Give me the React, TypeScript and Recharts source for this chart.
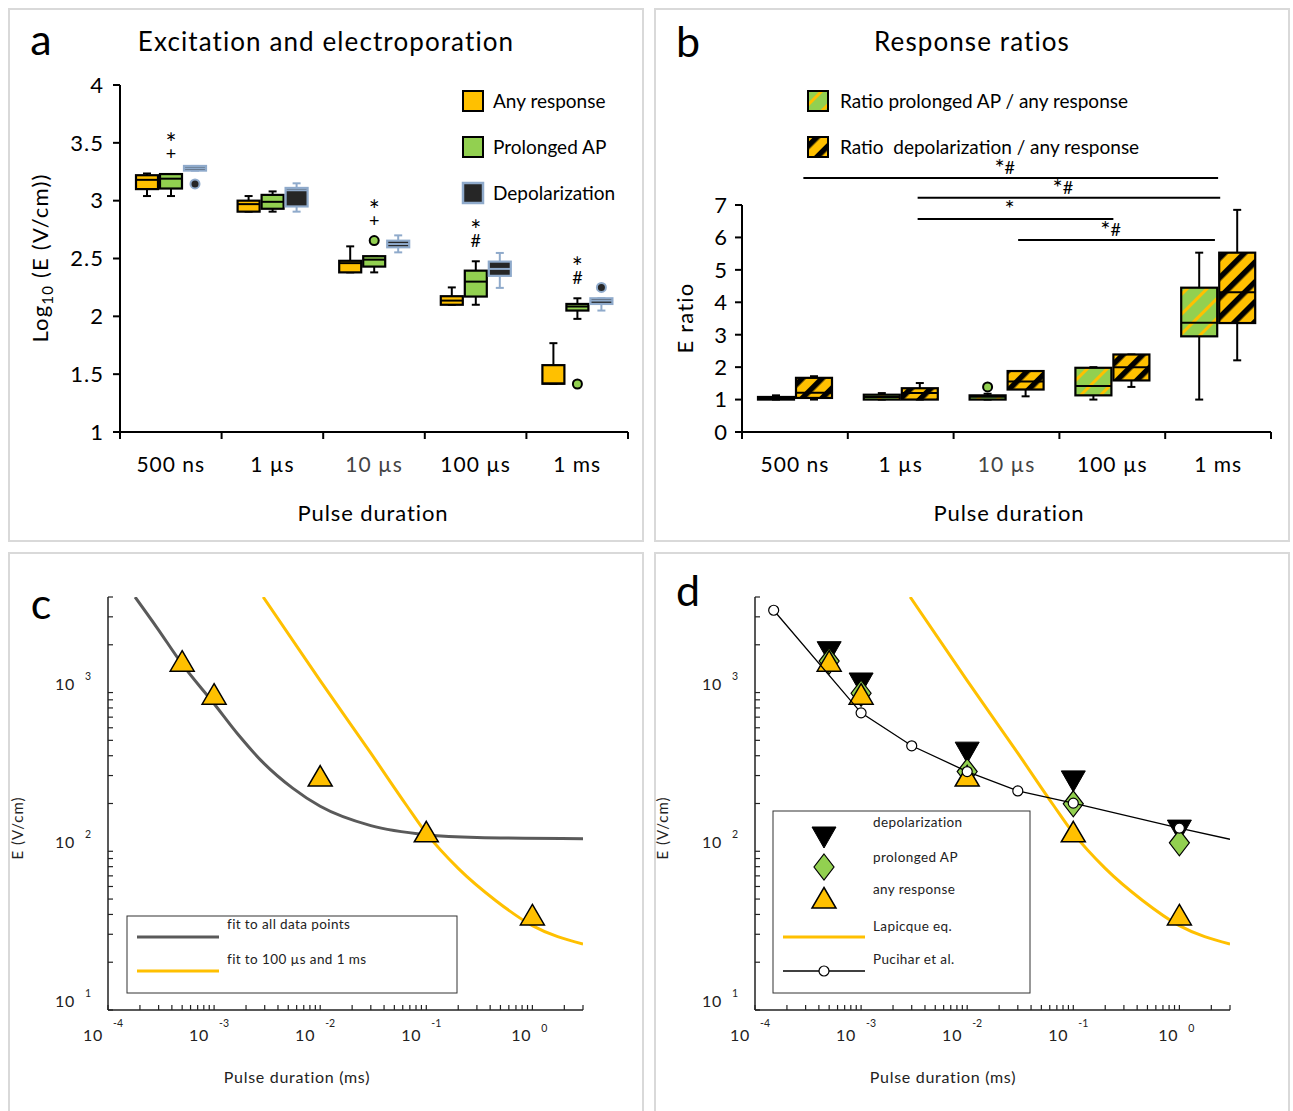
import React from 'react';
import { ComposedChart, ScatterChart, Bar, Scatter, XAxis, YAxis, ReferenceLine } from 'recharts';

const FONT = 'Lato, "Open Sans", sans-serif';
const ORANGE = '#FFC000';
const GREEN = '#92D050';
const DARK = '#262626';
const STEEL = '#8FAACB';
const GREY = '#5A5A5A';

const durations = ['500 ns', '1 µs', '10 µs', '100 µs', '1 ms'];

// panel a, log10 E: [whisker low, q1, median, q3, whisker high]
const anyBox = [
  [3.04, 3.1, 3.18, 3.22, 3.235],
  [2.905, 2.905, 2.97, 3.0, 3.04],
  [2.38, 2.38, 2.46, 2.48, 2.605],
  [2.1, 2.1, 2.136, 2.174, 2.25],
  [1.417, 1.417, 1.42, 1.578, 1.768],
];
const apBox = [
  [3.04, 3.105, 3.19, 3.23, 3.23],
  [2.905, 2.93, 2.99, 3.05, 3.08],
  [2.38, 2.43, 2.49, 2.52, 2.52],
  [2.1, 2.171, 2.3, 2.395, 2.476],
  [1.978, 2.05, 2.085, 2.107, 2.156],
];
const depBox = [
  [3.26, 3.26, 3.28, 3.3, 3.3],
  [2.905, 2.95, 3.09, 3.11, 3.15],
  [2.553, 2.597, 2.625, 2.654, 2.7],
  [2.246, 2.35, 2.41, 2.473, 2.548],
  [2.05, 2.107, 2.136, 2.156, 2.156],
];
const anyOut = [[], [], [], [], []];
const apOut = [[], [], [2.655], [], [1.415]];
const depOut = [[3.145], [], [], [], [2.25]];
const apMarks = ['*+', '', '*+', '*#', '*#'];
const aTicks = [1, 1.5, 2, 2.5, 3, 3.5, 4];

// panel b, ratios
const apRatioBox = [
  [1.0, 1.0, 1.04, 1.08, 1.13],
  [1.0, 1.0, 1.08, 1.15, 1.2],
  [1.0, 1.0, 1.09, 1.13, 1.18],
  [1.0, 1.13, 1.42, 1.98, 2.0],
  [1.0, 2.95, 3.37, 4.45, 5.53],
];
const depRatioBox = [
  [1.0, 1.05, 1.21, 1.67, 1.72],
  [1.0, 1.0, 1.2, 1.35, 1.51],
  [1.1, 1.31, 1.56, 1.88, 1.88],
  [1.39, 1.59, 2.0, 2.39, 2.39],
  [2.21, 3.36, 4.31, 5.53, 6.85],
];
const apRatioOut = [[], [], [1.39], [], []];
const depRatioOut = [[], [], [], [], []];
const bTicks = [0, 1, 2, 3, 4, 5, 6, 7];
// significance bars: span in category units (centre of category i = i + 0.5)
const sigBars = [
  { text: '*#', from: 0.58, to: 4.5, level: 7.83 },
  { text: '*#', from: 1.66, to: 4.52, level: 7.22 },
  { text: '*', from: 1.66, to: 3.51, level: 6.57 },
  { text: '*#', from: 2.61, to: 4.47, level: 5.92 },
];

// panels c and d, E (V/cm) vs pulse duration (ms)
const durMs = [5e-4, 1e-3, 1e-2, 1e-1, 1];
const anyE = [1510, 935, 285, 127, 38];
const apE = [1580, 990, 318, 199, 113];
const depE = [1890, 1200, 440, 290, 142];

const fitAllT = [1.8e-4, 2.9e-4, 5e-4, 1e-3, 1.7e-3, 2.9e-3, 5.5e-3, 1e-2, 3e-2, 0.1, 0.3, 3];
const fitAllE = [4000, 2560, 1510, 850, 540, 362, 250, 192, 145, 127, 122, 120];
const lapT = [2.9e-3, 1e-2, 3e-2, 6.5e-2, 0.1, 0.2, 0.45, 1, 3];
const lapE = [4000, 1190, 415, 195, 130, 78, 49, 34, 26];
const pucT = [1.5e-4, 1e-3, 3e-3, 1e-2, 3e-2, 0.1, 1, 3];
const pucE = [3300, 745, 462, 318, 240, 201, 140, 119];

const xDecades = [1e-4, 1e-3, 1e-2, 1e-1, 1];
const yDecades = [10, 100, 1000];
const X_DOMAIN = [1e-4, 3];
const Y_DOMAIN = [10, 4000];

const minorTicks = (decades: number[], lo: number, hi: number) => {
  const out: number[] = [];
  decades.forEach((d) => {
    for (let m = 1; m <= 9; m++) {
      const v = d * m;
      if (v >= lo * 0.999 && v <= hi * 1.001) out.push(v);
    }
  });
  return out;
};
const xLogTicks = minorTicks(xDecades, X_DOMAIN[0], X_DOMAIN[1]);
const yLogTicks = minorTicks(yDecades, Y_DOMAIN[0], Y_DOMAIN[1]);

const pts = (t: number[], e: number[]) => t.map((v, i) => ({ t: v, e: e[i] }));

const aRows = durations.map((cat, i) => ({
  cat,
  any: anyBox[i], anyOut: anyOut[i],
  ap: apBox[i], apOut: apOut[i], apMark: apMarks[i],
  dep: depBox[i], depOut: depOut[i],
}));
const bRows = durations.map((cat, i) => ({
  cat,
  ap: apRatioBox[i], apOut: apRatioOut[i],
  dep: depRatioBox[i], depOut: depRatioOut[i],
}));

const topOf = (s: number[], outs: number[]) => Math.max(s[4], ...outs);

type BoxStyle = { fill: string; stroke: string; outFill: string; outStroke: string };

function makeBox(field: string, base: number, st: BoxStyle, markField?: string) {
  return (p: any) => {
    const { x, y, width, height, payload } = p;
    const s: number[] = payload[field];
    const outs: number[] = payload[field + 'Out'] || [];
    const top = topOf(s, outs);
    const py = (v: number) => y + height - ((v - base) / (top - base)) * height;
    const cx = x + width / 2;
    const [lo, q1, med, q3, hi] = s;
    const marks: string = markField ? payload[markField] : '';
    const topY = py(top);
    return (
      <g>
        <line x1={cx} x2={cx} y1={py(hi)} y2={py(q3)} stroke={st.stroke} strokeWidth={2} />
        <line x1={cx} x2={cx} y1={py(q1)} y2={py(lo)} stroke={st.stroke} strokeWidth={2} />
        <line x1={cx - 4} x2={cx + 4} y1={py(hi)} y2={py(hi)} stroke={st.stroke} strokeWidth={2} />
        <line x1={cx - 4} x2={cx + 4} y1={py(lo)} y2={py(lo)} stroke={st.stroke} strokeWidth={2} />
        <rect x={x} y={py(q3)} width={width} height={Math.max(py(q1) - py(q3), 0)}
          fill={st.fill} stroke={st.stroke} strokeWidth={2.2} />
        <line x1={x} x2={x + width} y1={py(med)} y2={py(med)} stroke={st.stroke} strokeWidth={2} />
        {outs.map((o, i) => (
          <circle key={i} cx={cx} cy={py(o)} r={4.5} fill={st.outFill} stroke={st.outStroke} strokeWidth={2} />
        ))}
        {marks && (
          <text x={cx} y={topY - 21} fontFamily={FONT} textAnchor="middle" fill="#000">
            <tspan x={cx} fontSize={26}>{marks[0]}</tspan>
            <tspan x={cx} dy={7} fontSize={18}>{marks[1]}</tspan>
          </text>
        )}
      </g>
    );
  };
}

const bandTick = (bw: number) => (p: any) => {
  const { x, y, payload, index } = p;
  const edge = (ex: number) => (
    <line x1={ex} x2={ex} y1={y} y2={y + 7} stroke="#000" strokeWidth={2} />
  );
  return (
    <g>
      {index === 0 && edge(x - bw / 2)}
      {edge(x + bw / 2)}
      <text x={x} y={y + 40} textAnchor="middle" fontSize={21} letterSpacing={1} fontFamily={FONT}
        fill={payload.value === '10 µs' ? '#444' : '#000'}>{payload.value}</text>
    </g>
  );
};

const isDecade = (v: number) => Math.abs(Math.log10(v) - Math.round(Math.log10(v))) < 1e-6;

function LogTickX(p: any) {
  const { x, y, payload } = p;
  const v = payload.value;
  const e = Math.round(Math.log10(v));
  return (
    <g>
      <line x1={x} x2={x} y1={y} y2={y - 5} stroke="#222" strokeWidth={1.2} />
      {isDecade(v) && (
        <g fontFamily={FONT} fill="#222" textAnchor="middle">
          <text x={x - (e === 0 ? 11 : 15)} y={y + 31} fontSize={16} letterSpacing={0.8}>10</text>
          <text x={x + (e === 0 ? 12 : 10)} y={y + (e === 0 ? 22 : 17)} fontSize={10.5}>{e}</text>
        </g>
      )}
    </g>
  );
}

function LogTickY(p: any) {
  const { x, y, payload } = p;
  const v = payload.value;
  const e = Math.round(Math.log10(v));
  return (
    <g>
      <line x1={x} x2={x + 5} y1={y} y2={y} stroke="#222" strokeWidth={1.2} />
      {isDecade(v) && (
        <g fontFamily={FONT} fill="#222" textAnchor="middle">
          <text x={x - 43} y={y - 3} fontSize={16} letterSpacing={0.8}>10</text>
          <text x={x - 20} y={y - 13} fontSize={10.5}>{e}</text>
        </g>
      )}
    </g>
  );
}

const triUp = (cx: number, cy: number) => (
  <path d={`M${cx},${cy - 13.5} L${cx + 12},${cy + 7} L${cx - 12},${cy + 7} Z`} fill={ORANGE} stroke="#000" strokeWidth={1.5} />
);
const triDown = (cx: number, cy: number) => (
  <path d={`M${cx - 12},${cy - 7} L${cx + 12},${cy - 7} L${cx},${cy + 14} Z`} fill="#000" stroke="#000" strokeWidth={1} />
);
const diamond = (cx: number, cy: number) => (
  <path d={`M${cx},${cy - 13} L${cx + 10},${cy} L${cx},${cy + 13} L${cx - 10},${cy} Z`} fill={GREEN} stroke="#000" strokeWidth={1.2} />
);
const ring = (cx: number, cy: number) => (
  <circle cx={cx} cy={cy} r={5} fill="#fff" stroke="#000" strokeWidth={1.2} />
);
const noDot = () => <g />;

const PanelA = () => {
  const m = { top: 77, left: 52, right: 16, bottom: 80 };
  const bw = (636 - m.left - 60 - m.right) / durations.length;
  return (
    <ComposedChart width={636} height={534} data={aRows} margin={m} barGap={2}>
      <XAxis dataKey="cat" height={30} interval={0} tickLine={false} tickSize={0} tickMargin={0}
        axisLine={{ stroke: '#000', strokeWidth: 2 }} tick={bandTick(bw)} />
      <YAxis type="number" domain={[1, 4]} ticks={aTicks} allowDataOverflow width={60}
        axisLine={{ stroke: '#000', strokeWidth: 2 }} tickLine={{ stroke: '#000', strokeWidth: 2 }}
        tickSize={7} tickMargin={9} tick={{ fontSize: 22, fill: '#000', fontFamily: FONT, letterSpacing: 1 }} />
      <Bar dataKey={(d: any) => topOf(d.any, d.anyOut)} barSize={22} isAnimationActive={false}
        shape={makeBox('any', 1, { fill: ORANGE, stroke: '#000', outFill: ORANGE, outStroke: '#000' })} />
      <Bar dataKey={(d: any) => topOf(d.ap, d.apOut)} barSize={22} isAnimationActive={false}
        shape={makeBox('ap', 1, { fill: GREEN, stroke: '#000', outFill: GREEN, outStroke: '#000' }, 'apMark')} />
      <Bar dataKey={(d: any) => topOf(d.dep, d.depOut)} barSize={22} isAnimationActive={false}
        shape={makeBox('dep', 1, { fill: DARK, stroke: STEEL, outFill: DARK, outStroke: STEEL })} />
    </ComposedChart>
  );
};

const PanelB = () => {
  const m = { top: 197, left: 38, right: 19, bottom: 80 };
  const bw = (636 - m.left - 50 - m.right) / durations.length;
  return (
    <ComposedChart width={636} height={534} data={bRows} margin={m} barGap={2}>
      <XAxis dataKey="cat" height={30} interval={0} tickLine={false} tickSize={0} tickMargin={0}
        axisLine={{ stroke: '#000', strokeWidth: 2 }} tick={bandTick(bw)} />
      <YAxis type="number" domain={[0, 7]} ticks={bTicks} allowDataOverflow width={50}
        axisLine={{ stroke: '#000', strokeWidth: 2 }} tickLine={{ stroke: '#000', strokeWidth: 2 }}
        tickSize={7} tickMargin={8} tick={{ fontSize: 22, fill: '#000', fontFamily: FONT }} />
      <Bar dataKey={(d: any) => topOf(d.ap, d.apOut)} barSize={36} isAnimationActive={false}
        shape={makeBox('ap', 0, { fill: 'url(#stripeG)', stroke: '#000', outFill: GREEN, outStroke: '#000' })} />
      <Bar dataKey={(d: any) => topOf(d.dep, d.depOut)} barSize={36} isAnimationActive={false}
        shape={makeBox('dep', 0, { fill: 'url(#stripeO)', stroke: '#000', outFill: ORANGE, outStroke: '#000' })} />
      {sigBars.map((s, i) => {
        const fi = Math.floor(s.from);
        const ti = Math.min(Math.floor(s.to), durations.length - 1);
        const shape = (p: any) => {
          const x1 = p.x1 + (s.from - fi - 0.5) * bw;
          const x2 = p.x2 + (s.to - ti - 0.5) * bw;
          return (
            <g>
              <line x1={x1} x2={x2} y1={p.y1} y2={p.y2} stroke="#000" strokeWidth={2} />
              <text x={(x1 + x2) / 2 - 6} y={p.y1 - 4} textAnchor="middle" fontFamily={FONT} fill="#000">
                <tspan fontSize={24} dy={2}>{s.text[0]}</tspan>
                {s.text.length > 1 && <tspan fontSize={18} dy={-2}>{s.text.slice(1)}</tspan>}
              </text>
            </g>
          );
        };
        return (
          <ReferenceLine key={i} ifOverflow="visible" shape={shape}
            segment={[{ x: durations[fi], y: s.level }, { x: durations[ti], y: s.level }]} />
        );
      })}
    </ComposedChart>
  );
};

const logAxes = [
  <XAxis key="x" type="number" dataKey="t" scale="log" domain={X_DOMAIN} allowDataOverflow ticks={xLogTicks}
    interval={0} height={40} tickLine={false} tickSize={0} tickMargin={0}
    axisLine={{ stroke: '#222', strokeWidth: 1.5 }} tick={LogTickX} />,
  <YAxis key="y" type="number" dataKey="e" scale="log" domain={Y_DOMAIN} allowDataOverflow ticks={yLogTicks}
    interval={0} width={60} tickLine={false} tickSize={0} tickMargin={0}
    axisLine={{ stroke: '#222', strokeWidth: 1.5 }} tick={LogTickY} />,
];

const PanelC = () => (
  <ScatterChart width={636} height={559} margin={{ top: 45, left: 40, right: 61, bottom: 61 }}>
    {logAxes}
    <Scatter data={pts(fitAllT, fitAllE)} line={{ stroke: GREY, strokeWidth: 3 }} lineJointType="monotoneX"
      shape={noDot} isAnimationActive={false} />
    <Scatter data={pts(lapT, lapE)} line={{ stroke: ORANGE, strokeWidth: 3 }} lineJointType="monotoneX"
      shape={noDot} isAnimationActive={false} />
    <Scatter data={pts(durMs, anyE)} shape={(p: any) => triUp(p.cx, p.cy)} isAnimationActive={false} />
  </ScatterChart>
);

const PanelD = () => (
  <ScatterChart width={636} height={559} margin={{ top: 45, left: 41, right: 60, bottom: 61 }}>
    {logAxes}
    <Scatter data={pts(lapT, lapE)} line={{ stroke: ORANGE, strokeWidth: 3 }} lineJointType="monotoneX"
      shape={noDot} isAnimationActive={false} />
    <Scatter data={pts(durMs, depE)} shape={(p: any) => triDown(p.cx, p.cy)} isAnimationActive={false} />
    <Scatter data={pts(durMs, apE)} shape={(p: any) => diamond(p.cx, p.cy)} isAnimationActive={false} />
    <Scatter data={pts(durMs, anyE)} shape={(p: any) => triUp(p.cx, p.cy)} isAnimationActive={false} />
    <Scatter data={pts(pucT, pucE)} line={{ stroke: '#000', strokeWidth: 1.3 }} shape={noDot} isAnimationActive={false} />
    <Scatter data={pts(pucT, pucE).filter((d) => d.t < X_DOMAIN[1])} shape={(p: any) => ring(p.cx, p.cy)}
      isAnimationActive={false} />
  </ScatterChart>
);

const Overlay = () => (
  <svg width={1293} height={1111} style={{ position: 'absolute', left: 0, top: 0, pointerEvents: 'none' }}
    fontFamily={FONT}>
    <defs>
      <pattern id="stripeG" patternUnits="userSpaceOnUse" width={14} height={14} patternTransform="rotate(45)">
        <rect width={14} height={14} fill={GREEN} />
        <rect width={3} height={14} fill={ORANGE} />
      </pattern>
      <pattern id="stripeO" patternUnits="userSpaceOnUse" width={14} height={14} patternTransform="rotate(45)">
        <rect width={14} height={14} fill={ORANGE} />
        <rect width={5.5} height={14} fill="#000" />
      </pattern>
    </defs>

    <g fill="#000">
      <text x={41} y={55} fontSize={43} textAnchor="middle">a</text>
      <text x={688} y={57} fontSize={43} textAnchor="middle">b</text>
      <text x={41} y={619} fontSize={43} textAnchor="middle">c</text>
      <text x={688} y={606} fontSize={43} textAnchor="middle">d</text>

      <text x={326} y={51} fontSize={26} letterSpacing={1.1} textAnchor="middle">Excitation and electroporation</text>
      <text x={972} y={51} fontSize={26} letterSpacing={1.1} textAnchor="middle">Response ratios</text>

      <text x={373} y={521} fontSize={22} letterSpacing={0.9} textAnchor="middle">Pulse duration</text>
      <text x={1009} y={521} fontSize={22} letterSpacing={0.9} textAnchor="middle">Pulse duration</text>

      <text transform="translate(48,258) rotate(-90)" fontSize={22} letterSpacing={1.2} textAnchor="middle">
        Log<tspan fontSize={15} dy={5}>10</tspan><tspan dy={-5}> (E (V/cm))</tspan>
      </text>
      <text transform="translate(693,318) rotate(-90)" fontSize={22} letterSpacing={1.2} textAnchor="middle">E ratio</text>
    </g>

    {/* legend a */}
    <g fontSize={19} fill="#000">
      <rect x={463} y={91} width={20} height={20} fill={ORANGE} stroke="#000" strokeWidth={2} />
      <text x={493} y={108}>Any response</text>
      <rect x={463} y={137} width={20} height={20} fill={GREEN} stroke="#000" strokeWidth={2} />
      <text x={493} y={154}>Prolonged AP</text>
      <rect x={463} y={183} width={20} height={20} fill={DARK} stroke={STEEL} strokeWidth={2.5} />
      <text x={493} y={200}>Depolarization</text>
    </g>

    {/* legend b */}
    <g fontSize={19} fill="#000">
      <rect x={808} y={91} width={20} height={20} fill="url(#stripeG)" stroke="#000" strokeWidth={2} />
      <text x={840} y={108}>Ratio prolonged AP / any response</text>
      <rect x={808} y={137} width={20} height={20} fill="url(#stripeO)" stroke="#000" strokeWidth={2} />
      <text x={840} y={154} style={{ whiteSpace: 'pre' }}>Ratio  depolarization / any response</text>
    </g>

    {/* axis titles c, d */}
    <g fill="#222">
      <text transform="translate(23,828) rotate(-90)" fontSize={15} letterSpacing={1} textAnchor="middle">E (V/cm)</text>
      <text transform="translate(668,828) rotate(-90)" fontSize={15} letterSpacing={1} textAnchor="middle">E (V/cm)</text>
      <text x={297} y={1083} fontSize={16} letterSpacing={0.7} textAnchor="middle">Pulse duration (ms)</text>
      <text x={943} y={1083} fontSize={16} letterSpacing={0.7} textAnchor="middle">Pulse duration (ms)</text>
    </g>

    {/* legend c */}
    <g fontSize={13.5} letterSpacing={0.4} fill="#222">
      <rect x={127} y={916} width={330} height={77} fill="#fff" stroke="#333" strokeWidth={1} />
      <line x1={137} x2={219} y1={937} y2={937} stroke={GREY} strokeWidth={3} />
      <text x={227} y={929}>fit to all data points</text>
      <line x1={137} x2={219} y1={971} y2={971} stroke={ORANGE} strokeWidth={3} />
      <text x={227} y={964}>fit to 100 µs and 1 ms</text>
    </g>

    {/* legend d */}
    <g fontSize={13.5} letterSpacing={0.4} fill="#222">
      <rect x={773} y={811} width={257} height={182} fill="#fff" stroke="#333" strokeWidth={1} />
      {triDown(824, 834)}
      <text x={873} y={827}>depolarization</text>
      {diamond(824, 867)}
      <text x={873} y={862}>prolonged AP</text>
      {triUp(824, 901)}
      <text x={873} y={894}>any response</text>
      <line x1={783} x2={865} y1={937} y2={937} stroke={ORANGE} strokeWidth={3} />
      <text x={873} y={931}>Lapicque eq.</text>
      <line x1={783} x2={865} y1={971} y2={971} stroke="#000" strokeWidth={1.3} />
      {ring(824, 971)}
      <text x={873} y={964}>Pucihar et al.</text>
    </g>
  </svg>
);

const border = (left: number, top: number, height: number) => (
  <div style={{
    position: 'absolute', left, top, width: 636, height, boxSizing: 'border-box',
    border: '2px solid #D9D9D9',
  }} />
);

export default function App() {
  return (
    <div style={{ position: 'absolute', left: 0, top: 0, width: 1293, height: 1111, background: '#fff',
      overflow: 'hidden', fontFamily: FONT }}>
      {border(8, 8, 534)}
      {border(654, 8, 534)}
      {border(8, 552, 562)}
      {border(654, 552, 562)}
      <div style={{ position: 'absolute', left: 8, top: 8 }}><PanelA /></div>
      <div style={{ position: 'absolute', left: 654, top: 8 }}><PanelB /></div>
      <div style={{ position: 'absolute', left: 8, top: 552 }}><PanelC /></div>
      <div style={{ position: 'absolute', left: 654, top: 552 }}><PanelD /></div>
      <Overlay />
    </div>
  );
}
